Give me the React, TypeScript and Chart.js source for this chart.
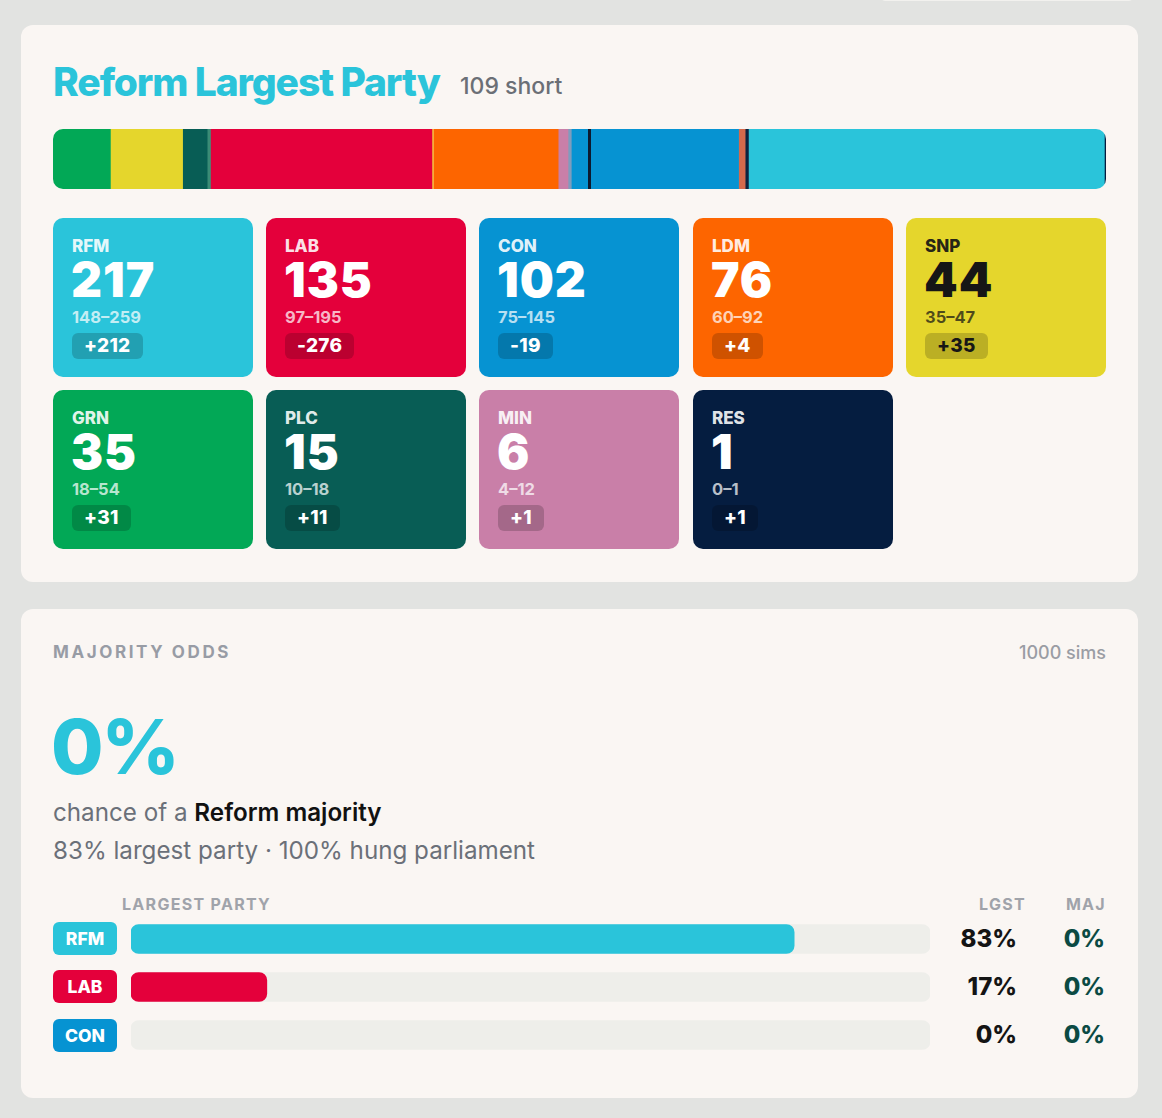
import React, { useEffect, useRef } from "react";
import { Chart, registerables } from "chart.js";

Chart.register(...registerables);

// ---- Tile data ----
const PARTIES = ["RFM", "LAB", "CON", "LDM", "SNP", "GRN", "PLC", "MIN", "RES"];
const SEATS = [217, 135, 102, 76, 44, 35, 15, 6, 1];
const RANGE_LO = [148, 97, 75, 60, 35, 18, 10, 4, 0];
const RANGE_HI = [259, 195, 145, 92, 47, 54, 18, 12, 1];
const CHANGE = [212, -276, -19, 4, 35, 31, 11, 1, 1];
const PARTY_COLORS = ["#2ac4da", "#e4003b", "#0693d2", "#fd6500", "#e5d62c", "#02a856", "#085d55", "#c97fa8", "#051d40"];

// ---- Seat bar (left-to-right order) ----
const BAR_PARTIES = ["GRN", "SNP", "PLC", "SDLP", "LAB", "APNI", "LDM", "MIN", "UUP", "CON", "DUP", "TUV", "RFM", "RES"];
const BAR_SEATS = [35, 44, 15, 2, 135, 1, 76, 6, 2, 102, 4, 2, 217, 1];
const BAR_COLORS = ["#02a856", "#e5d62c", "#085d55", "#3a8c76", "#e4003b", "#f5b73b", "#fd6500", "#c97fa8", "#7f9cbd", "#0693d2", "#d46a4c", "#0c2340", "#2ac4da", "#051d40"];
const MAJORITY = 326;

// ---- Majority odds ----
const ODDS_PARTIES = ["RFM", "LAB", "CON"];
const ODDS_LGST = [83, 17, 0];
const ODDS_MAJ = [0, 0, 0];
const ODDS_COLORS = ["#2ac4da", "#e4003b", "#0693d2"];
const TRACK = [100, 100, 100];

const FONT = "Inter, 'Noto Sans', sans-serif";

function SeatBar() {
  const ref = useRef<HTMLCanvasElement>(null);
  useEffect(() => {
    const total = BAR_SEATS.reduce((a, b) => a + b, 0);
    const majLine = {
      id: "majLine",
      afterDatasetsDraw(chart: any) {
        const x = chart.scales.x.getPixelForValue(MAJORITY);
        const ctx = chart.ctx;
        ctx.save();
        ctx.fillStyle = "#0d1a2e";
        ctx.fillRect(Math.round(x), chart.chartArea.top, 3, chart.chartArea.bottom - chart.chartArea.top);
        ctx.restore();
      },
    };
    const chart = new Chart(ref.current!, {
      type: "bar",
      data: {
        labels: ["Seats"],
        datasets: BAR_SEATS.map((v, i) => ({
          label: BAR_PARTIES[i],
          data: [v],
          backgroundColor: BAR_COLORS[i],
          borderWidth: 0,
          barPercentage: 1,
          categoryPercentage: 1,
        })),
      },
      options: {
        indexAxis: "y",
        animation: false,
        responsive: false,
        layout: { padding: 0 },
        plugins: { legend: { display: false }, tooltip: { enabled: false } },
        scales: {
          x: { stacked: true, min: 0, max: total, display: false },
          y: { stacked: true, display: false },
        },
      },
      plugins: [majLine],
    } as any);
    return () => chart.destroy();
  }, []);
  return (
    <div style={{ position: "absolute", left: 32, top: 104, width: 1053, height: 60, borderRadius: 10, overflow: "hidden" }}>
      <canvas ref={ref} width={1053} height={60} style={{ display: "block" }} />
    </div>
  );
}

function OddsBars() {
  const ref = useRef<HTMLCanvasElement>(null);
  useEffect(() => {
    const chart = new Chart(ref.current!, {
      type: "bar",
      data: {
        labels: ODDS_PARTIES,
        datasets: [
          {
            label: "Largest",
            data: ODDS_LGST.map((v) => (v > 0 ? v : null)),
            backgroundColor: ODDS_COLORS,
            borderWidth: 0,
            borderRadius: 8,
            borderSkipped: false,
            barThickness: 29,
            grouped: false,
          },
          {
            label: "Track",
            data: TRACK,
            backgroundColor: "#eeeeea",
            borderWidth: 0,
            borderRadius: 8,
            borderSkipped: false,
            barThickness: 29,
            grouped: false,
          },
        ],
      },
      options: {
        indexAxis: "y",
        animation: false,
        responsive: false,
        layout: { padding: 0 },
        plugins: { legend: { display: false }, tooltip: { enabled: false } },
        scales: {
          x: { min: 0, max: 100, display: false },
          y: { display: false },
        },
      },
    } as any);
    return () => chart.destroy();
  }, []);
  return (
    <canvas
      ref={ref}
      width={799}
      height={144}
      style={{ position: "absolute", left: 110, top: 306, display: "block" }}
    />
  );
}

function Tile({ i, left, top }: { i: number; left: number; top: number }) {
  const dark = PARTIES[i] === "SNP";
  const bg = PARTY_COLORS[i];
  const main = dark ? "#161616" : "#ffffff";
  const labelCol = dark ? "rgba(20,20,20,0.92)" : "rgba(255,255,255,0.9)";
  const rangeCol = dark ? "rgba(20,20,20,0.72)" : "rgba(255,255,255,0.72)";
  const ch = CHANGE[i];
  const chText = ch > 0 ? `+${ch}` : `-${Math.abs(ch)}`;
  return (
    <div style={{ position: "absolute", left, top, width: 200, height: 159, borderRadius: 10, background: bg }}>
      <div style={{ position: "absolute", left: 19, top: 19.5, fontSize: 17, lineHeight: 1, fontWeight: 800, color: labelCol, whiteSpace: "nowrap" }}>
        {PARTIES[i]}
      </div>
      <div style={{ position: "absolute", left: 18, top: 38, fontSize: 48, lineHeight: 1, fontWeight: 900, color: main, letterSpacing: 1, whiteSpace: "nowrap" }}>
        {SEATS[i]}
      </div>
      <div style={{ position: "absolute", left: 19, top: 90.75, fontSize: 16.5, lineHeight: 1, fontWeight: 700, color: rangeCol, whiteSpace: "nowrap" }}>
        {RANGE_LO[i]}–{RANGE_HI[i]}
      </div>
      <div
        style={{
          position: "absolute",
          left: 19,
          top: 115,
          height: 26,
          padding: "0 12px",
          borderRadius: 6,
          background: "rgba(0,0,0,0.18)",
          color: main,
          fontSize: 19,
          fontWeight: 800,
          lineHeight: "26px",
          letterSpacing: 0.3,
          whiteSpace: "nowrap",
        }}
      >
        {chText}
      </div>
    </div>
  );
}

export default function App() {
  const colX = [32, 245, 458, 672, 885];
  const tiles = PARTIES.map((_, i) => {
    const row = i < 5 ? 0 : 1;
    const col = i < 5 ? i : i - 5;
    return <Tile key={i} i={i} left={colX[col]} top={row === 0 ? 193 : 365} />;
  });
  const rowTops = [0, 48, 96.5];
  return (
    <div
      style={{
        position: "absolute",
        left: 0,
        top: 0,
        width: 1162,
        height: 1118,
        background: "#e2e3e1",
        overflow: "hidden",
        fontFamily: FONT,
      }}
    >
      <div style={{ position: "absolute", left: 880, top: -10, width: 254, height: 11, borderRadius: 10, background: "#f2f1ee" }} />
      {/* Top card */}
      <div style={{ position: "absolute", left: 21, top: 25, width: 1117, height: 557, borderRadius: 12, background: "#faf6f3" }}>
        <div style={{ position: "absolute", left: 32, top: 36.5, fontSize: 39, lineHeight: 1, fontWeight: 800, color: "#2ac4da", letterSpacing: -1.1, whiteSpace: "nowrap" }}>
          Reform Largest Party
        </div>
        <div style={{ position: "absolute", left: 439, top: 49.5, fontSize: 23, lineHeight: 1, fontWeight: 500, color: "#6b6f76", whiteSpace: "nowrap" }}>
          109 short
        </div>
        <SeatBar />
        {tiles}
      </div>
      {/* Bottom card */}
      <div style={{ position: "absolute", left: 21, top: 609, width: 1117, height: 489, borderRadius: 12, background: "#faf6f3" }}>
        <div style={{ position: "absolute", left: 32, top: 34.5, fontSize: 17, lineHeight: 1, fontWeight: 700, color: "#989ca5", letterSpacing: 2.6, whiteSpace: "nowrap" }}>
          MAJORITY ODDS
        </div>
        <div style={{ position: "absolute", right: 32, top: 34.5, fontSize: 18, lineHeight: 1, fontWeight: 500, color: "#9a9da4", whiteSpace: "nowrap" }}>
          1000 sims
        </div>
        <div style={{ position: "absolute", left: 30, top: 98.5, fontSize: 76, lineHeight: 1, fontWeight: 800, color: "#2ac4da", letterSpacing: -2, whiteSpace: "nowrap" }}>
          0%
        </div>
        <div style={{ position: "absolute", left: 32, top: 192, fontSize: 24.2, lineHeight: 1, fontWeight: 400, color: "#6b7079", whiteSpace: "nowrap" }}>
          chance of a <span style={{ fontWeight: 600, color: "#111111" }}>Reform majority</span>
        </div>
        <div style={{ position: "absolute", left: 32, top: 230, fontSize: 24.2, lineHeight: 1, fontWeight: 400, color: "#6b7079", whiteSpace: "nowrap" }}>
          83% largest party · 100% hung parliament
        </div>
        <div style={{ position: "absolute", left: 101, top: 287, fontSize: 16, lineHeight: 1, fontWeight: 700, color: "#a0a3aa", letterSpacing: 1.3, whiteSpace: "nowrap" }}>
          LARGEST PARTY
        </div>
        <div style={{ position: "absolute", right: 112, top: 287, fontSize: 16, lineHeight: 1, fontWeight: 700, color: "#a0a3aa", letterSpacing: 1.3, whiteSpace: "nowrap" }}>
          LGST
        </div>
        <div style={{ position: "absolute", right: 32, top: 287, fontSize: 16, lineHeight: 1, fontWeight: 700, color: "#a0a3aa", letterSpacing: 1.3, whiteSpace: "nowrap" }}>
          MAJ
        </div>
        <OddsBars />
        {ODDS_PARTIES.map((p, i) => (
          <React.Fragment key={p}>
            <div
              style={{
                position: "absolute",
                left: 32,
                top: 313 + rowTops[i],
                width: 64,
                height: 33,
                borderRadius: 6,
                background: ODDS_COLORS[i],
                color: "#fff",
                fontSize: 17.5,
                fontWeight: 800,
                lineHeight: "33px",
                textAlign: "center",
              }}
            >
              {p}
            </div>
            <div style={{ position: "absolute", right: 121, top: 317.5 + rowTops[i], fontSize: 24, lineHeight: 1, fontWeight: 800, color: "#141414", whiteSpace: "nowrap" }}>
              {ODDS_LGST[i]}%
            </div>
            <div style={{ position: "absolute", right: 33, top: 317.5 + rowTops[i], fontSize: 24, lineHeight: 1, fontWeight: 800, color: "#0b4a43", whiteSpace: "nowrap" }}>
              {ODDS_MAJ[i]}%
            </div>
          </React.Fragment>
        ))}
      </div>
    </div>
  );
}
